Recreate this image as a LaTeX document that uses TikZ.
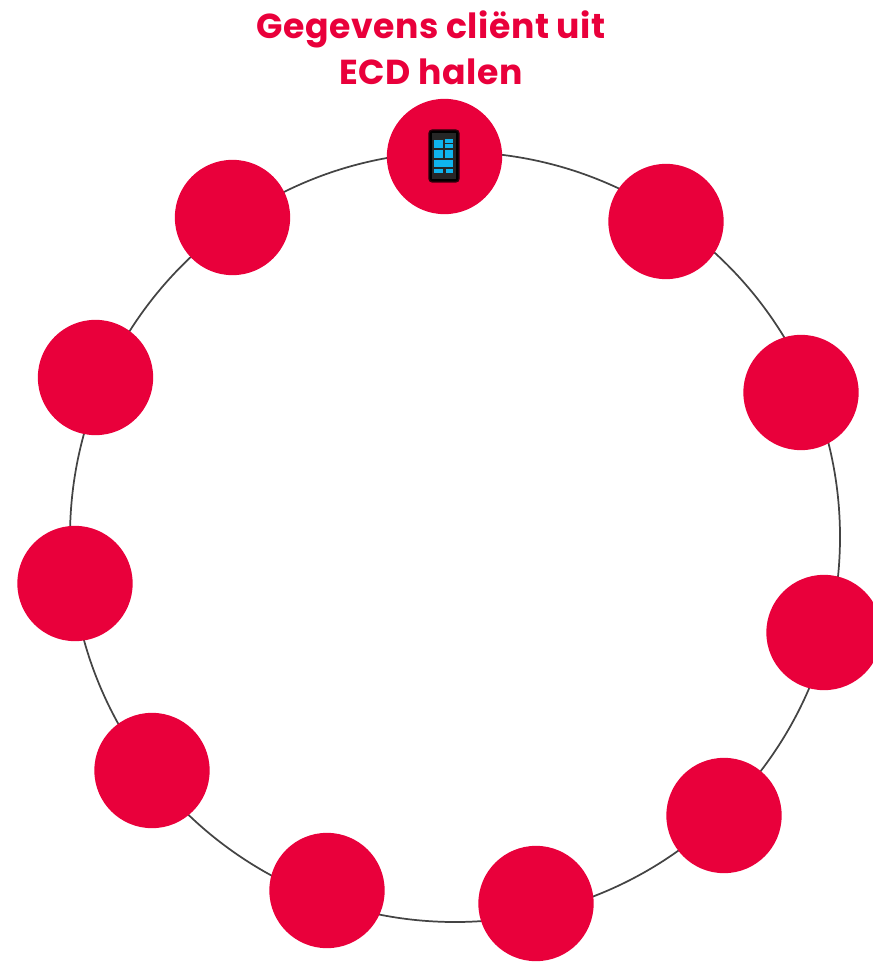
\documentclass[tikz,border=0pt]{standalone}
\usepackage{fontspec}
\setmainfont{Poppins}[LetterSpace=1.5]
\usetikzlibrary{positioning}
\definecolor{stepred}{HTML}{E9003B}
\definecolor{ringgray}{HTML}{444444}
\definecolor{tileblue}{HTML}{0FB5EE}
\tikzset{
	stepdisc/.style={circle, fill=stepred, minimum size=86.5pt, inner sep=0pt},
	ringline/.style={circle, draw=ringgray, line width=1.3pt, minimum size=577.5pt, inner sep=0pt},
	titlelabel/.style={text=stepred, font=\bfseries\fontsize{26}{34.5}\selectfont, align=center},
	phonetile/.style={fill=tileblue, draw=none}
}

\begin{document}
\begin{tikzpicture}[x=0.75pt, y=-0.75pt]
	\useasboundingbox (0,0) rectangle (872,962);
	\node[ringline] (ring) at (455,537) {};

	\foreach \name/\px/\py in {s_1/444.5/156.5, s_2/666/221.5, s_3/801/392.5, s_4/824/632.5, s_5/724/815.5, s_6/536/903.5, s_7/327/890.5, s_8/152/770.5, s_9/75/583.5, s_10/95.5/377.5, s_11/232.5/217.5}
		\node[stepdisc] (\name) at (\px,\py) {};

	\node[titlelabel] (title) at (431,47.5) {Gegevens cliënt uit\\ECD halen};

	% phone icon
	\draw[fill=black, draw=black!80!stepred, line width=1pt, rounded corners=2.5pt] (429,130) rectangle (459,182);
	\fill[black!85] (432,133) rectangle (456,179);
	\foreach \xa/\ya/\xb/\yb in {434/140/443/148, 445/139/453/143, 445/144/453/148, 434/150/443/158, 445/150/453/158, 434/160/453/167, 434/169/443/173, 446/169/453/173}
		\fill[phonetile] (\xa,\ya) rectangle (\xb,\yb);
\end{tikzpicture}
\end{document}
